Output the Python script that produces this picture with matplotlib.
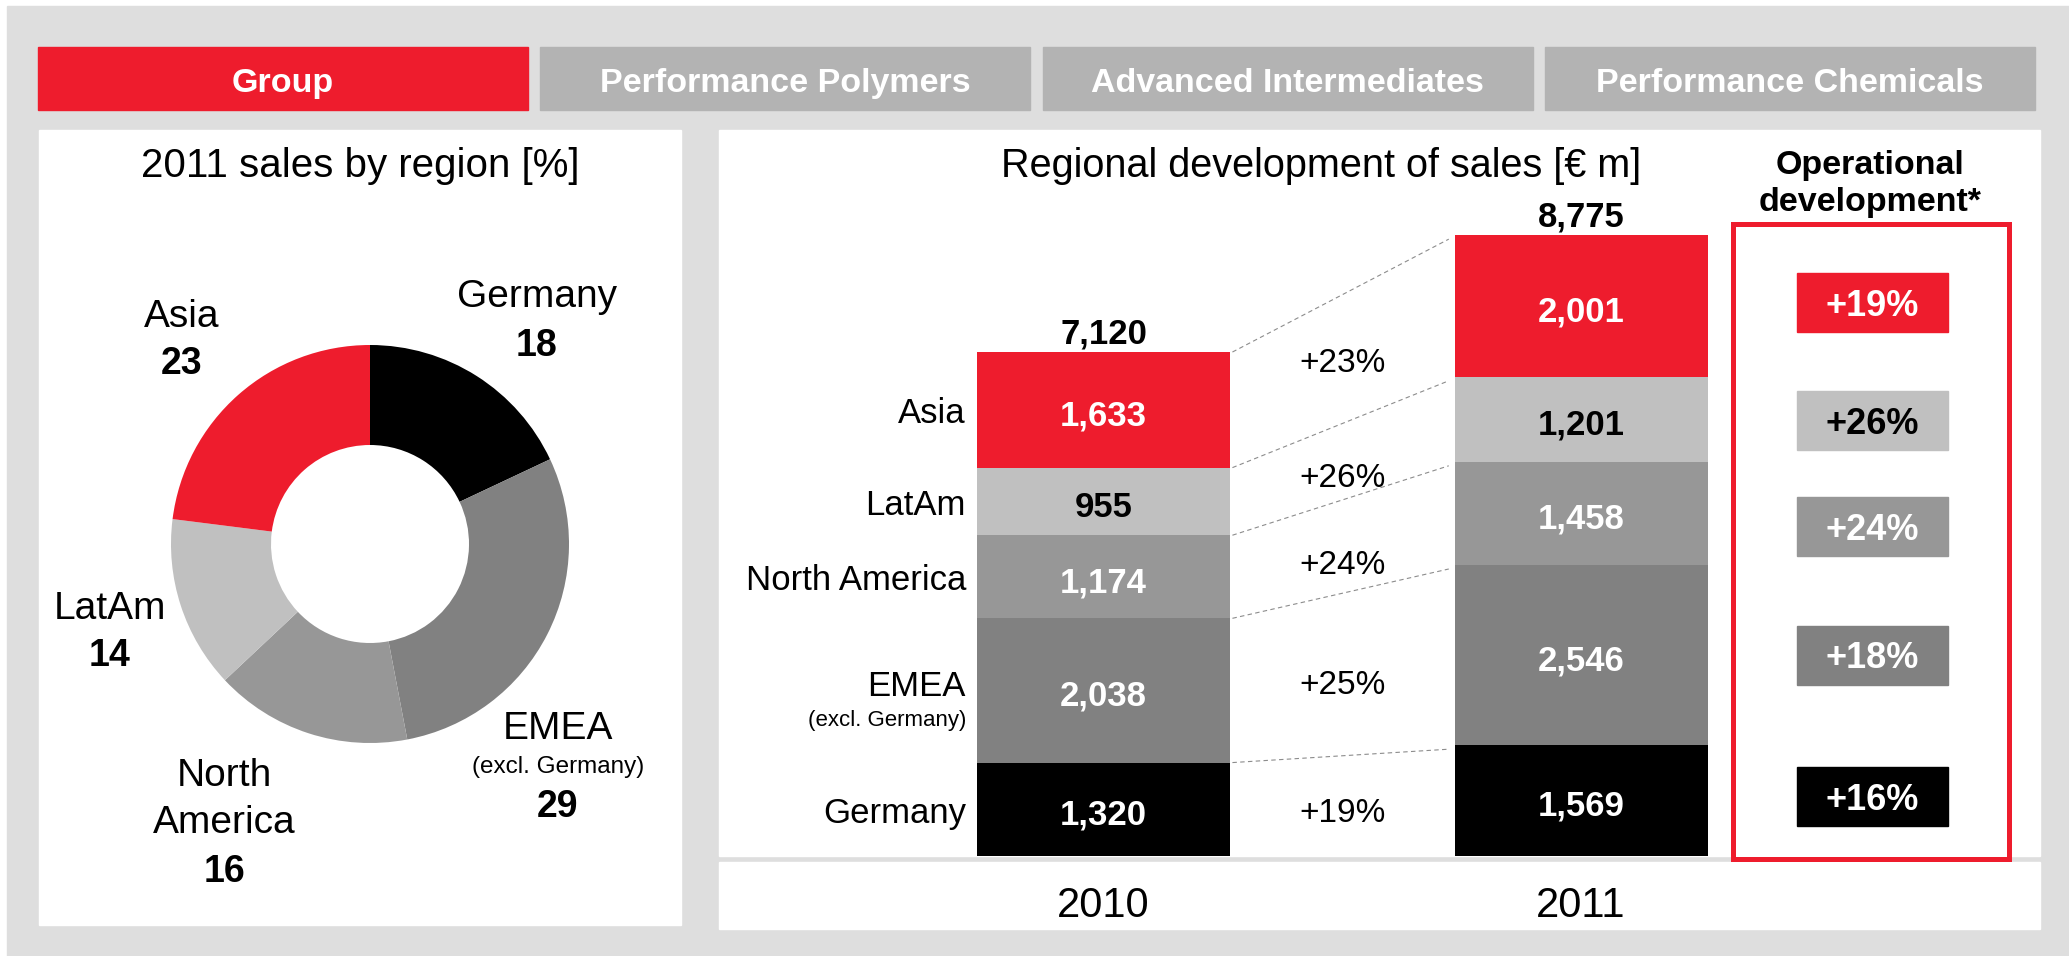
import matplotlib
matplotlib.use('Agg')
import matplotlib.pyplot as plt
from matplotlib.patches import Rectangle
from matplotlib.transforms import blended_transform_factory
import numpy as np

plt.rcParams['font.family'] = ['Liberation Sans', 'DejaVu Sans']

# ---------------- data ----------------
tabs = ['Group', 'Performance Polymers', 'Advanced Intermediates', 'Performance Chemicals']
regions = ['Germany', 'EMEA', 'North America', 'LatAm', 'Asia']   # bottom -> top
years = ['2010', '2011']
sales_2010 = [1320, 2038, 1174, 955, 1633]
sales_2011 = [1569, 2546, 1458, 1201, 2001]
share_2011 = [18, 29, 16, 14, 23]        # Germany, EMEA, North America, LatAm, Asia
operational = ['+16%', '+18%', '+24%', '+26%', '+19%']

# ---------------- style ----------------
RED = '#EE1C2D'
colors = ['#000000', '#818181', '#979797', '#C0C0C0', RED]
text_colors = ['white', 'white', 'white', 'black', 'white']
BG = '#DEDEDE'
TAB = '#B3B3B3'
DY = 4   # pixel shift to visually centre text

W, H = 2069, 956
fig = plt.figure(figsize=(W / 100, H / 100), dpi=100, facecolor='white')

bg = fig.add_axes([0, 0, 1, 1])
bg.set_xlim(0, W)
bg.set_ylim(H, 0)
bg.axis('off')
bg.add_patch(Rectangle((7, 6), W - 7, H - 6, color=BG, zorder=0))


def btext(px, py, s, **kw):
    kw.setdefault('ha', 'center')
    kw.setdefault('va', 'center')
    kw.setdefault('zorder', 3)
    return bg.text(px, py + DY, s, **kw)


# tabs
for i, t in enumerate(tabs):
    x0 = 38 + 502.3 * i
    bg.add_patch(Rectangle((x0, 47), 490, 63, color=RED if i == 0 else TAB, zorder=1))
    btext(x0 + 245, 79, t, color='white', fontsize=24.5, fontweight='bold')

# panels
bg.add_patch(Rectangle((39, 130), 642, 795, color='white', zorder=1))
bg.add_patch(Rectangle((719, 130), 1321, 726, color='white', zorder=1))
bg.add_patch(Rectangle((719, 862), 1321, 67, color='white', zorder=1))

# titles
btext(360, 162, '2011 sales by region [%]', fontsize=29)
btext(1321, 162, 'Regional development of sales [€ m]', fontsize=28.5)
btext(1870, 161, 'Operational', fontsize=24.5, fontweight='bold')
btext(1870, 198, 'development*', fontsize=24.5, fontweight='bold')

# red frame
bg.add_patch(Rectangle((1732.5, 223.5), 276, 635, fill=False, ec=RED, lw=3.6, zorder=5))

# ---------------- stacked bars ----------------
ax = fig.add_axes([720 / W, (H - 856) / H, 1320 / W, 726 / H])
ax.set_xlim(-0.803, 1.961)
ax.set_ylim(0, 10257)
ax.axis('off')
ax.patch.set_visible(False)


def atext(xv, yv, s, dx=0, dy=0, **kw):
    kw.setdefault('ha', 'center')
    kw.setdefault('va', 'center')
    kw.setdefault('zorder', 3)
    return ax.annotate(s, (xv, yv), xytext=(dx, dy - DY), textcoords='offset pixels', **kw)


x = np.arange(len(years))
width = 0.53
data = np.array([sales_2010, sales_2011], dtype=float)
cum = np.cumsum(data, axis=1)
bottoms = np.zeros(len(years))
for j in range(len(regions)):
    ax.bar(x, data[:, j], width, bottom=bottoms, color=colors[j], zorder=2)
    for xi in range(len(years)):
        v = data[xi, j]
        atext(x[xi], bottoms[xi] + v / 2, f'{int(v):,}', dy=-2,
              fontsize=25, fontweight='bold', color=text_colors[j])
    bottoms += data[:, j]

# totals
for xi in range(len(years)):
    tot = cum[xi, -1]
    atext(x[xi], tot, f'{int(tot):,}', dy=22, fontsize=25, fontweight='bold')

# connectors
for k in range(len(regions)):
    ax.plot([x[0] + width / 2 + 0.005, x[1] - width / 2 - 0.012], [cum[0, k], cum[1, k] - 60],
            ls=(0, (4, 3)), color='#8C8C8C', lw=0.8, zorder=1)

# category labels left of the 2010 bar
lx = x[0] - width / 2 - 0.023
for k, name in enumerate(regions):
    mid10 = cum[0, k] - data[0, k] / 2
    if name == 'EMEA':
        atext(lx, mid10, 'EMEA', dy=8, ha='right', fontsize=25)
        atext(lx, mid10, '(excl. Germany)', dy=-26, ha='right', fontsize=16)
    else:
        atext(lx, mid10, name, ha='right', fontsize=25)

# growth labels (layout rows, px from top) and operational boxes
trans = blended_transform_factory(ax.transData, bg.transData)
growth_rows = [809, 682, 561, 474, 360]
op_rows = [796, 655, 526, 420, 302]
for k in range(len(regions)):
    g = data[1, k] / data[0, k] - 1
    ax.text(0.5, growth_rows[k] + DY, f'+{round(g * 100):d}%', transform=trans,
            ha='center', va='center', fontsize=24, clip_on=False)
    bg.add_patch(Rectangle((1797, op_rows[k] - 29.5), 151, 59, color=colors[k], zorder=2))
    btext(1872.5, op_rows[k], operational[k], fontsize=26, fontweight='bold',
          color=text_colors[k])

# year labels
for xi, yr in enumerate(years):
    ax.text(x[xi], 902 + DY, yr, transform=trans, ha='center', va='center', fontsize=30,
            clip_on=False)

# ---------------- donut ----------------
dax = fig.add_axes([(370 - 250) / W, (H - 544 - 250) / H, 500 / W, 500 / H])
dax.pie(share_2011, colors=colors, startangle=90, counterclock=False, radius=0.995,
        wedgeprops=dict(width=0.5, edgecolor='none'))
dax.set_xlim(-1.25, 1.25)
dax.set_ylim(-1.25, 1.25)
dax.patch.set_visible(False)

donut_pos = {
    'Germany': (537, [293], 342),
    'EMEA': (558, [725], 803),
    'North America': (224, [772, 819], 868),
    'LatAm': (110, [605], 652),
    'Asia': (182, [313], 360),
}
for name, val in zip(regions, share_2011):
    px, ys, vy = donut_pos[name]
    parts = name.split(' ') if len(ys) > 1 else [name]
    for part, yy in zip(parts, ys):
        btext(px, yy, part, fontsize=28)
    if name == 'EMEA':
        btext(px, 763, '(excl. Germany)', fontsize=17.5)
    btext(px, vy, str(val), fontsize=27, fontweight='bold')

fig.savefig('out.png', dpi=100, facecolor='white')
